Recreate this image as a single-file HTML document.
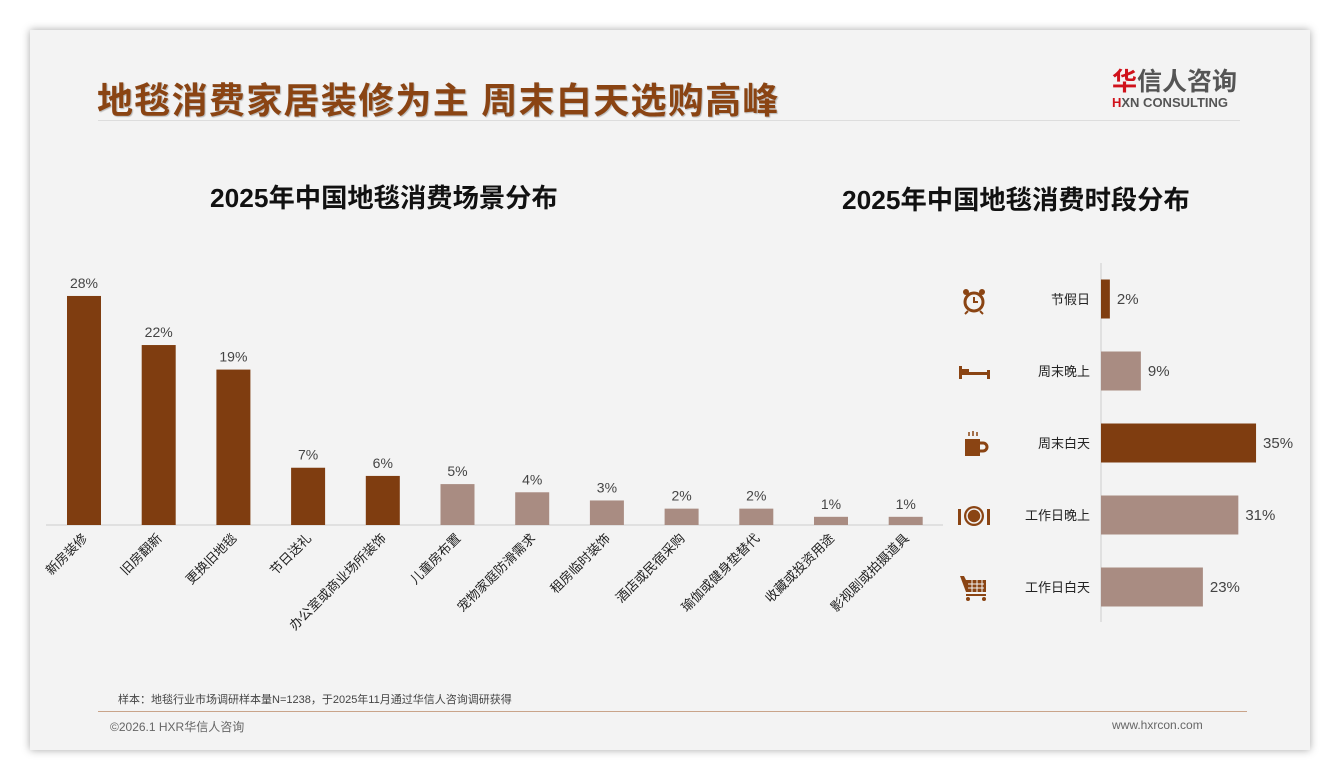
<!DOCTYPE html>
<html><head><meta charset="utf-8"><style>
body{margin:0;width:1340px;height:780px;background:#fff;font-family:"Liberation Sans","Noto Sans CJK SC",sans-serif;position:relative;overflow:hidden}
.card{position:absolute;left:30px;top:30px;width:1280px;height:720px;background:#f3f3f3;box-shadow:0 0 8px rgba(0,0,0,.35)}
.t{position:absolute;white-space:nowrap}
</style></head><body>
<div class="card"></div>
<div class="t" style="left:97px;top:72px;font-size:36px;font-weight:bold;color:#8a4413;letter-spacing:1.3px;text-shadow:1px 1px 1px rgba(0,0,0,.25)">地毯消费家居装修为主 周末白天选购高峰</div>
<div class="t" style="left:1112px;top:62px;font-size:25px;color:#555;font-weight:bold"><span style="color:#d0121b">华</span>信人咨询</div>
<div class="t" style="left:1112px;top:95px;font-size:13px;color:#555;font-weight:bold"><span style="color:#d0121b">H</span>XN CONSULTING</div>
<div style="position:absolute;left:98px;top:120px;width:1142px;height:1px;background:#ddd"></div>
<div class="t" style="left:210px;top:176px;font-size:26.3px;font-weight:bold;color:#111">2025年中国地毯消费场景分布</div>
<div class="t" style="left:842px;top:178px;font-size:26.3px;font-weight:bold;color:#111">2025年中国地毯消费时段分布</div>
<svg id="s" width="1340" height="780" style="position:absolute;left:0;top:0"></svg>
<div class="t" style="left:118px;top:691px;font-size:11px;color:#444">样本：地毯行业市场调研样本量N=1238，于2025年11月通过华信人咨询调研获得</div>
<div style="position:absolute;left:98px;top:711px;width:1149px;height:1px;background:#c9a48a"></div>
<div class="t" style="left:110px;top:718px;font-size:12px;color:#666">©2026.1 HXR华信人咨询</div>
<div class="t" style="left:1112px;top:718px;font-size:12px;color:#666">www.hxrcon.com</div>
<script>
const sceneCats=["新房装修","旧房翻新","更换旧地毯","节日送礼","办公室或商业场所装饰","儿童房布置","宠物家庭防滑需求","租房临时装饰","酒店或民宿采购","瑜伽或健身垫替代","收藏或投资用途","影视剧或拍摄道具"];
const sceneVals=[28,22,19,7,6,5,4,3,2,2,1,1];
const timeCats=["节假日","周末晚上","周末白天","工作日晚上","工作日白天"];
const timeVals=[2,9,35,31,23];
const DARK="#7f3d10",LIGHT="#a98c82",IC="#8a4413";
const s=document.getElementById('s'),NS="http://www.w3.org/2000/svg";
function mk(t,a,txt,p){const e=document.createElementNS(NS,t);for(const k in a)e.setAttribute(k,a[k]);if(txt!=null)e.textContent=txt;(p||s).appendChild(e);return e;}
const base=525,x0=84,step=74.7,ppu=8.18;
const ly=v=>base-v*ppu, lx=i=>x0+i*step;
const ax=mk('line',{x1:46,x2:943,y1:base,y2:base,stroke:'#ccc'});

sceneVals.forEach((v,i)=>{
 const r=mk('rect',{x:lx(i)-17,y:ly(v),width:34,height:base-ly(v),fill:i<5?DARK:LIGHT});
 
 const t=mk('text',{x:lx(i),y:ly(v)-8,'text-anchor':'middle','font-size':14,fill:'#444'},v+'%');
 
 const c=mk('text',{x:0,y:0,'text-anchor':'end','font-size':13,fill:'#222',transform:`translate(${lx(i)+4},${base+14}) rotate(-45)`},sceneCats[i]);
 
});
const rx=1101,ry0=299,rstep=72,rppu=4.43;
const rX=v=>rx+v*rppu, rY=i=>ry0+i*rstep;
const ra=mk('line',{x1:rx,x2:rx,y1:263,y2:622,stroke:'#ccc'});

const iconSvg=[
 '<circle cx="0" cy="2" r="9" fill="none" stroke="'+IC+'" stroke-width="3"/><path d="M0 -3V2H4" stroke="'+IC+'" stroke-width="2" fill="none"/><circle cx="-8" cy="-8" r="3" fill="'+IC+'"/><circle cx="8" cy="-8" r="3" fill="'+IC+'"/><path d="M-6 11l-3 3M6 11l3 3" stroke="'+IC+'" stroke-width="2"/>',
 '<rect x="-15" y="-6" width="3" height="13" fill="'+IC+'"/><rect x="13" y="-2" width="3" height="9" fill="'+IC+'"/><rect x="-12" y="0" width="25" height="3" fill="'+IC+'"/><rect x="-12" y="-3" width="7" height="3" fill="'+IC+'"/>',
 '<rect x="-9" y="-5" width="15" height="17" fill="'+IC+'"/><path d="M6 -1h3a4 4 0 0 1 0 8h-3" fill="none" stroke="'+IC+'" stroke-width="3"/><path d="M-5 -12v4M-1 -13v5M3 -12v4" stroke="'+IC+'" stroke-width="1.5"/>',
 '<circle cx="0" cy="0" r="10" fill="'+IC+'"/><circle cx="0" cy="0" r="7" fill="none" stroke="#f3f3f3" stroke-width="1.5"/><rect x="-16" y="-7" width="3" height="16" fill="'+IC+'"/><rect x="13" y="-7" width="3" height="16" fill="'+IC+'"/>',
 '<path d="M-14 -12h4l2 4h20v12h-20z" fill="'+IC+'"/><path d="M-6 -4h16M-6 0h16M-2 -8v12M3 -8v12M8 -8v12" stroke="#f3f3f3" stroke-width="1"/><rect x="-8" y="6" width="20" height="2" fill="'+IC+'"/><circle cx="-6" cy="11" r="2" fill="'+IC+'"/><circle cx="10" cy="11" r="2" fill="'+IC+'"/>'
];
timeVals.forEach((v,i)=>{
 const r=mk('rect',{x:rx,y:rY(i)-19.5,width:rX(v)-rx,height:39,fill:(i===0||i===2)?DARK:LIGHT});
 
 const t=mk('text',{x:rX(v)+7,y:rY(i)+5,'font-size':15,fill:'#444'},v+'%');
 
 const c=mk('text',{x:1090,y:rY(i)+5,'text-anchor':'end','font-size':13,fill:'#222'},timeCats[i]);
 
 const g=mk('g',{transform:`translate(974,${rY(i)+1})`});
 
 g.innerHTML=iconSvg[i];
});
</script>
</body></html>
